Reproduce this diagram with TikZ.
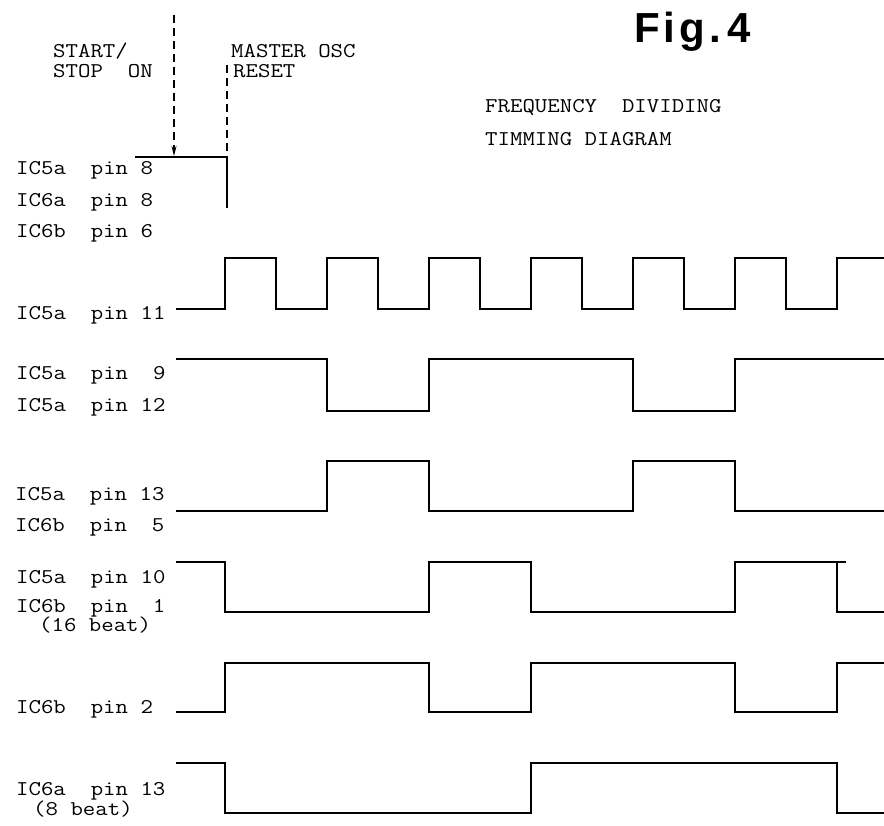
\documentclass[tikz,border=0pt]{standalone}
\usepackage{fontspec}
\usetikzlibrary{arrows.meta}
\newfontfamily\twfont{Latin Modern Mono}[FakeStretch=1.15]
\newfontfamily\figfont{Liberation Sans}
\tikzset{
  tw/.style={anchor=base west, inner sep=0pt, font=\twfont\fontsize{21}{21}\selectfont},
  figl/.style={anchor=base, inner sep=0pt, font=\figfont\bfseries\fontsize{42}{42}\selectfont},
  wave/.style={line width=1.8pt, line join=miter},
  marker/.style={line width=1.2pt, dash pattern=on 8pt off 5pt},
}
\begin{document}
\begin{tikzpicture}[x=1pt,y=-1pt]
\useasboundingbox[fill=white] (0,0) rectangle (884,826);

% title
\node[figl] (f1) at (647,43) {F};
\node[figl] (f2) at (669,43) {i};
\node[figl] (f3) at (692,43) {g};
\node[figl] (f4) at (715,43) {.};
\node[figl] (f5) at (739,43) {4};

\node[tw] (t1) at (485,113) {FREQUENCY~~DIVIDING};
\node[tw] (t2) at (485,146) {TIMMING~DIAGRAM};

% top annotations
\node[tw] (ss1) at (53,58) {START/};
\node[tw] (ss2) at (53,78) {STOP~~ON};
\node[tw] (mo1) at (231,58) {MASTER~OSC};
\node[tw] (mo2) at (233,78) {RESET};

\coordinate (a1) at (174,15);
\coordinate (a2) at (174,156);
\coordinate (b1) at (227,65);
\coordinate (b2) at (227,157);
\coordinate (b3) at (227,208);
\coordinate (h0) at (135,157);
\draw[marker,-{Stealth[length=10pt,width=5pt]}] (a1) -- (a2);
\draw[marker] (b1) -- (b2);
\draw[wave] (h0) -- (b2) -- (b3);

% labels
\node[tw] (l1) at (16,175) {IC5a~~pin~8};
\node[tw] (l2) at (16,207) {IC6a~~pin~8};
\node[tw] (l3) at (16,238) {IC6b~~pin~6};
\node[tw] (l4) at (16,320) {IC5a~~pin~11};
\node[tw] (l5) at (16,380) {IC5a~~pin~~9};
\node[tw] (l6) at (16,411) {IC5a~~pin~12};
\node[tw] (l7) at (15,500) {IC5a~~pin~13};
\node[tw] (l8) at (15,531) {IC6b~~pin~~5};
\node[tw] (l9) at (16,583) {IC5a~~pin~10};
\node[tw] (l10) at (16,612) {IC6b~~pin~~1};
\node[tw] (l11) at (39,631) {(16~beat)};
\node[tw] (l12) at (16,713) {IC6b~~pin~2};
\node[tw] (l13) at (16,795) {IC6a~~pin~13};
\node[tw] (l14) at (33,815) {(8~beat)};

% waveforms
% IC5a pin 11 (clock)
\draw[wave] (176,309) -- (225,309) -- (225,258) -- (276,258) -- (276,309)
  -- (327,309) -- (327,258) -- (378,258) -- (378,309) -- (429,309) -- (429,258)
  -- (480,258) -- (480,309) -- (531,309) -- (531,258) -- (582,258) -- (582,309)
  -- (633,309) -- (633,258) -- (684,258) -- (684,309) -- (735,309) -- (735,258)
  -- (786,258) -- (786,309) -- (837,309) -- (837,258) -- (884,258);
% IC5a pin 9 / 12
\draw[wave] (176,359) -- (327,359) -- (327,411) -- (429,411) -- (429,359)
  -- (633,359) -- (633,411) -- (735,411) -- (735,359) -- (884,359);
% IC5a pin 13 / IC6b pin 5
\draw[wave] (176,511) -- (327,511) -- (327,461) -- (429,461) -- (429,511)
  -- (633,511) -- (633,461) -- (735,461) -- (735,511) -- (884,511);
% IC5a pin 10 / IC6b pin 1
\draw[wave] (176,562) -- (225,562) -- (225,612) -- (429,612) -- (429,562)
  -- (531,562) -- (531,612) -- (735,612) -- (735,562) -- (846,562);
\draw[wave] (837,562) -- (837,612) -- (884,612);
% IC6b pin 2
\draw[wave] (176,712) -- (225,712) -- (225,663) -- (429,663) -- (429,712)
  -- (531,712) -- (531,663) -- (735,663) -- (735,712) -- (837,712) -- (837,663) -- (884,663);
% IC6a pin 13
\draw[wave] (176,763) -- (225,763) -- (225,813) -- (531,813) -- (531,763)
  -- (837,763) -- (837,813) -- (884,813);
\end{tikzpicture}
\end{document}
